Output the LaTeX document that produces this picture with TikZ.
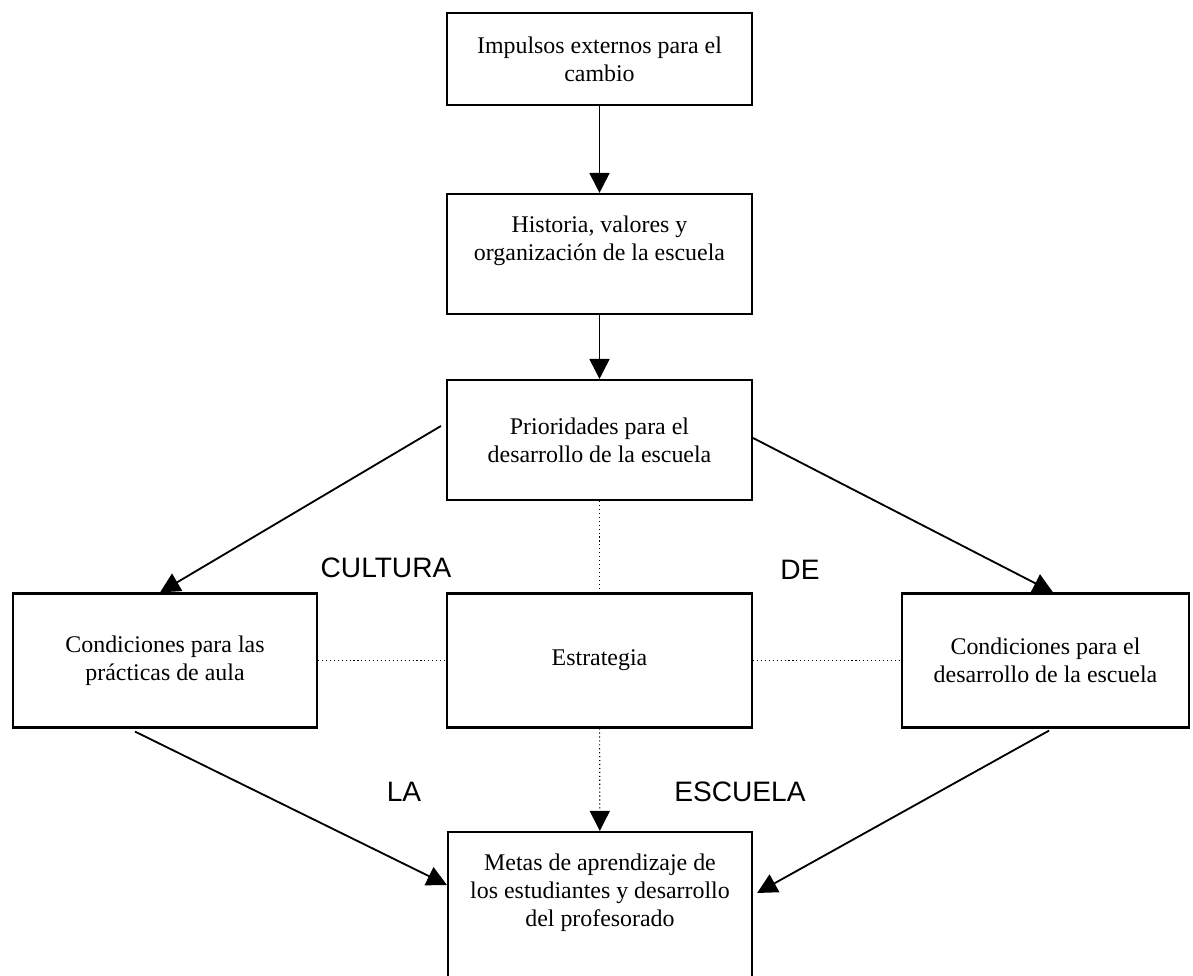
\documentclass[tikz,border=0pt]{standalone}
\usepackage{fontspec}
\setmainfont{Liberation Serif}
\newfontfamily\capsfont{Liberation Sans}
\usepackage{tikz}
\usetikzlibrary{arrows.meta}
\newlength\pxu
\setlength\pxu{0.25mm}

\begin{document}
\begin{tikzpicture}[x=0.25mm,y=-0.25mm,
    box/.style={draw,line width=1.5pt,align=center,inner sep=0pt,font=\fontsize{17}{20}\selectfont},
    arr/.style={line width=1.3pt,-{Triangle[length=5mm,width=5mm]}},
    dots/.style={dotted,line width=0.8pt},
    word/.style={font=\capsfont\fontsize{20}{23}\selectfont}]

        % Fix the page size
        \useasboundingbox (0,0) rectangle (1193,976);

        % Draw the boxes
        \node[box,minimum width=305\pxu,minimum height=92\pxu] (impulsos) at (599.5,59) {Impulsos externos para el\\cambio};
        \node[box,minimum width=305\pxu,minimum height=120\pxu] (historia) at (599.5,254) {Historia, valores y\\organización de la escuela\\[3pt]\mbox{}};
        \node[box,minimum width=305\pxu,minimum height=120\pxu] (prioridades) at (599.5,440) {Prioridades para el\\desarrollo de la escuela};
        \node[box,minimum width=305\pxu,minimum height=134\pxu] (estrategia) at (599.5,660.5) {Estrategia};
        \node[box,minimum width=304\pxu,minimum height=134\pxu] (aula) at (165,660.5) {Condiciones para las\\prácticas de aula};
        \node[box,minimum width=287\pxu,minimum height=134\pxu] (escuela) at (1045.5,660.5) {Condiciones para el\\desarrollo de la escuela};
        \node[box,minimum width=304\pxu,minimum height=172\pxu] (metas) at (600,918) {Metas de aprendizaje de\\los estudiantes y desarrollo\\del profesorado\\[20pt]\mbox{}};

        % Draw the big words
        \node[word] (cultura) at (386,568) {CULTURA};
        \node[word] (de) at (800,570) {DE};
        \node[word] (la) at (404,792) {LA};
        \node[word] (escuelaw) at (740,792) {ESCUELA};

        % Draw the solid arrows
        \draw[arr] (impulsos) -- (historia);
        \draw[arr] (historia) -- (prioridades);
        \draw[arr] ([xshift=-1.25mm,yshift=3.5mm]prioridades.west) -- ([xshift=-1.25mm]aula.north);
        \draw[arr] ([yshift=0.5mm]prioridades.east) -- ([xshift=1.9mm]escuela.north);
        \draw[arr] ([xshift=-7.5mm,yshift=-0.75mm]aula.south) -- ([yshift=8.25mm]metas.west);
        \draw[arr] ([xshift=0.9mm,yshift=-0.5mm]escuela.south) -- ([xshift=1mm,yshift=6.25mm]metas.east);

        % Draw the dotted links
        \draw[dots] (prioridades) -- (estrategia);
        \draw[dots] (aula) -- (estrategia);
        \draw[dots] (estrategia) -- (escuela);
        \draw[dots,-{Triangle[length=5mm,width=5mm]}] (estrategia) -- (metas);
    \end{tikzpicture}
\end{document}
